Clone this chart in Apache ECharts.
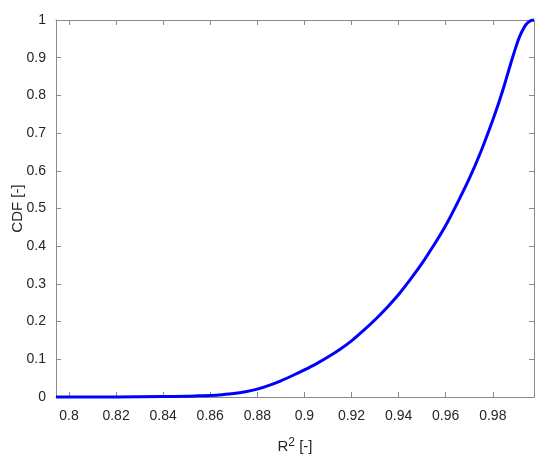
<!DOCTYPE html>
<html>
<head>
<meta charset="utf-8">
<script src="https://cdn.jsdelivr.net/npm/echarts@6/dist/echarts.min.js"></script>
<style>html,body{margin:0;padding:0;background:#fff;}#c{width:550px;height:461px;}</style>
</head>
<body>
<div id="c"></div>
<script>
var r2Values = [0.7945,0.80,0.82,0.84,0.85,0.855,0.86,0.865,0.87,0.875,0.88,0.885,0.89,0.895,0.90,0.905,0.91,0.915,0.92,0.925,0.93,0.935,0.94,0.945,0.95,0.955,0.96,0.965,0.97,0.975,0.98,0.9825,0.985,0.9875,0.99,0.9915,0.993,0.994,0.995,0.996,0.997,0.9975];
var cdfValues = [0,0,0,0.001,0.002,0.003,0.004,0.006,0.009,0.014,0.021,0.031,0.043,0.057,0.072,0.088,0.106,0.126,0.149,0.176,0.205,0.237,0.272,0.312,0.355,0.403,0.455,0.515,0.579,0.652,0.735,0.78,0.829,0.882,0.932,0.958,0.977,0.987,0.994,0.998,0.9995,1.0];
var xTicks = [0.8,0.82,0.84,0.86,0.88,0.9,0.92,0.94,0.96,0.98];

var axisColor = '#8a8a8a';
var textColor = '#262626';
var font = 'Liberation Sans, Arial, Helvetica, sans-serif';

var chart = echarts.init(document.getElementById('c'));
var xBase = {
  type: 'value', min: 0.7945, max: 0.9975,
  axisLine: {show: true, onZero: false, lineStyle: {color: axisColor, width: 1}},
  splitLine: {show: false}
};
var yBase = {
  type: 'value', min: 0, max: 1, interval: 0.1,
  axisLine: {show: true, onZero: false, lineStyle: {color: axisColor, width: 1}},
  splitLine: {show: false}
};
chart.setOption({
  animation: false,
  grid: {left: 56, right: 16, top: 20, bottom: 64, containLabel: false, outerBoundsMode: 'none'},
  xAxis: [
    Object.assign({}, xBase, {
      position: 'bottom',
      axisTick: {show: true, inside: true, length: 5, customValues: xTicks, lineStyle: {color: axisColor}},
      axisLabel: {show: true, customValues: xTicks, margin: 12, fontSize: 14, color: textColor, fontFamily: font},
      name: '{b|R}{s|2}{b| [-]}', nameLocation: 'middle', nameGap: 40, nameMoveOverlap: false,
      nameTextStyle: {rich: {b: {fontSize: 15, color: textColor, fontFamily: font}, s: {fontSize: 12, color: textColor, fontFamily: font, verticalAlign: 'top', padding: [0,0,7,0]}}}
    }),
    Object.assign({}, xBase, {
      position: 'top',
      axisTick: {show: true, inside: true, length: 5, customValues: xTicks, lineStyle: {color: axisColor}},
      axisLabel: {show: false}
    })
  ],
  yAxis: [
    Object.assign({}, yBase, {
      position: 'left',
      axisTick: {show: true, inside: true, length: 5, lineStyle: {color: axisColor}},
      axisLabel: {show: true, margin: 10, fontSize: 14, color: textColor, fontFamily: font},
      name: 'CDF [-]', nameLocation: 'middle', nameGap: 31, nameMoveOverlap: false,
      nameTextStyle: {fontSize: 15, color: textColor, fontFamily: font}
    }),
    Object.assign({}, yBase, {
      position: 'right',
      axisTick: {show: true, inside: true, length: 5, lineStyle: {color: axisColor}},
      axisLabel: {show: false}
    })
  ],
  series: [{
    type: 'line',
    xAxisIndex: 0, yAxisIndex: 0,
    data: r2Values.map(function (v, i) { return [v, cdfValues[i]]; }),
    showSymbol: false,
    smooth: 0.3,
    clip: false,
    lineStyle: {color: '#0000ff', width: 3, join: 'round'}
  }]
});
</script>
</body>
</html>
